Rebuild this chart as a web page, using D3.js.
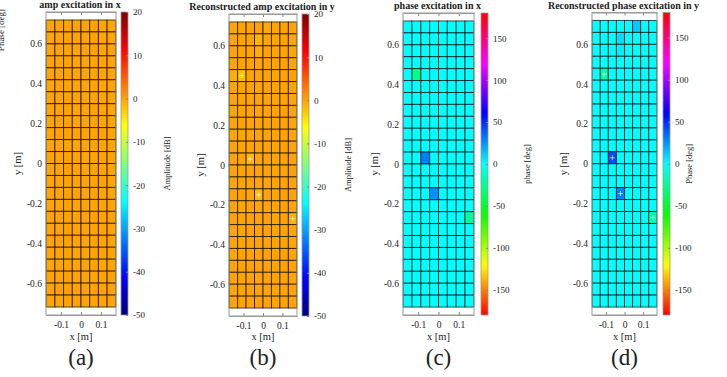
<!DOCTYPE html>
<html>
<head>
<meta charset="utf-8">
<script src="https://cdn.jsdelivr.net/npm/d3@7"></script>
<style>
  body { margin: 0; background: #fff; }
  svg text { font-family: "Liberation Serif", "DejaVu Serif", serif; fill: #222; }
  .axis path { stroke: #999; }
  .axis line { stroke: #888; }
</style>
</head>
<body>
<svg id="chart" width="727" height="377"></svg>
<script>
// element centre positions of the 8 x 24 array [m]
const elemX = [-0.1523, -0.1088, -0.0653, -0.0218, 0.0218, 0.0653, 0.1088, 0.1523];
const elemY = [0.69, 0.63, 0.57, 0.51, 0.45, 0.39, 0.33, 0.27, 0.21, 0.15, 0.09, 0.03,
               -0.03, -0.09, -0.15, -0.21, -0.27, -0.33, -0.39, -0.45, -0.51, -0.57, -0.63, -0.69];

const xTicks = [-0.1, 0, 0.1];
const yTicks = [0.6, 0.4, 0.2, 0, -0.2, -0.4, -0.6];
const ampTicks = [20, 10, 0, -10, -20, -30, -40, -50];
const phaseTicks = [150, 100, 50, 0, -50, -100, -150];

// base level of each map, and the elements that differ from it (col, row, value)
const ampXBase = 0;
const ampXCells = [];
const ampYBase = 0;
const ampYCells = [
  { c: 1, r: 4, v: -1.8, mark: true },
  { c: 2, r: 11, v: -1.3, mark: true },
  { c: 3, r: 14, v: -1.5, mark: true },
  { c: 7, r: 16, v: -0.9, mark: true },
  { c: 3, r: 1, v: -1.0 },
  { c: 3, r: 2, v: -0.6 },
  { c: 0, r: 4, v: -0.7 },
  { c: 4, r: 0, v: -0.4 }
];
const phaseXBase = 0;
const phaseXCells = [
  { c: 1, r: 4, v: -27 },
  { c: 2, r: 11, v: 30 },
  { c: 3, r: 14, v: 26 },
  { c: 7, r: 16, v: -24 }
];
const phaseYBase = 0;
const phaseYCells = [
  { c: 1, r: 4, v: -22, mark: true },
  { c: 2, r: 11, v: 42, mark: true },
  { c: 3, r: 14, v: 30, mark: true },
  { c: 7, r: 16, v: -20, mark: true },
  { c: 5, r: 0, v: 12 },
  { c: 3, r: 1, v: 8 },
  { c: 3, r: 2, v: 4 }
];

function jet(t) {
  const f = v => Math.max(0, Math.min(1, v));
  return d3.rgb(255 * f(1.5 - Math.abs(4 * t - 3)), 255 * f(1.5 - Math.abs(4 * t - 2)), 255 * f(1.5 - Math.abs(4 * t - 1)));
}
function hsv(t) { return d3.hsl(t * 360, 1, 0.5); }

const panels = [
  { title: "amp excitation in x", base: ampXBase, cells: ampXCells, cmap: jet, dom: [-50, 20], cticks: ampTicks,
    clabel: "Amplitude [dB]", tag: "(a)", left: 46, right: 116, top: 12, bottom: 315, cbx: 121, lblx: 170 },
  { title: "Reconstructed amp excitation in y", base: ampYBase, cells: ampYCells, cmap: jet, dom: [-50, 20], cticks: ampTicks,
    clabel: "Amplitude [dB]", tag: "(b)", left: 229, right: 297, top: 14, bottom: 316, cbx: 302, lblx: 351 },
  { title: "phase excitation in x", base: phaseXBase, cells: phaseXCells, cmap: hsv, dom: [-180, 180], cticks: phaseTicks,
    clabel: "phase [deg]", tag: "(c)", left: 403, right: 474, top: 13, bottom: 315, cbx: 481, lblx: 530 },
  { title: "Reconstructed phase excitation in y", base: phaseYBase, cells: phaseYCells, cmap: hsv, dom: [-180, 180], cticks: phaseTicks,
    clabel: "Phase [deg]", tag: "(d)", left: 592, right: 657, top: 12.5, bottom: 315, cbx: 663, lblx: 692 }
];

const svg = d3.select("#chart");
const defs = svg.append("defs");
const dx = elemX[1] - elemX[0];
const dy = elemY[0] - elemY[1];

// cut-off label left over at the very left edge
svg.append("text")
  .attr("transform", "translate(4,30) rotate(-90)")
  .attr("text-anchor", "middle")
  .attr("font-size", 9)
  .attr("fill", "#444")
  .text("Phase [deg]");

panels.forEach((p, i) => {
  const x = d3.scaleLinear().domain([-0.175, 0.175]).range([p.left, p.right]);
  const y = d3.scaleLinear().domain([-0.76, 0.76]).range([p.bottom, p.top]);
  const color = v => p.cmap((v - p.dom[0]) / (p.dom[1] - p.dom[0]));
  const g = svg.append("g");

  g.append("rect")
    .attr("x", p.left).attr("y", p.top)
    .attr("width", p.right - p.left).attr("height", p.bottom - p.top)
    .attr("fill", "#fff");

  // full grid of elements
  const grid = [];
  elemY.forEach((ey, r) => elemX.forEach((ex, c) => {
    const hit = p.cells.find(d => d.c === c && d.r === r);
    grid.push({ ex, ey, v: hit ? hit.v : p.base, mark: hit && hit.mark });
  }));

  g.selectAll("rect.cell")
    .data(grid)
    .enter()
    .append("rect")
    .attr("class", "cell")
    .attr("x", d => x(d.ex - dx / 2))
    .attr("y", d => y(d.ey + dy / 2))
    .attr("width", x(dx) - x(0))
    .attr("height", y(0) - y(dy))
    .attr("fill", d => color(d.v))
    .attr("stroke", "rgba(0,0,0,0.68)")
    .attr("stroke-width", 1);

  g.selectAll("path.mark")
    .data(grid.filter(d => d.mark))
    .enter()
    .append("path")
    .attr("class", "mark")
    .attr("d", d => `M${x(d.ex) - 2.5},${y(d.ey)}h5M${x(d.ex)},${y(d.ey) - 2.5}v5`)
    .attr("stroke", "rgba(255,255,255,0.8)")
    .attr("stroke-width", 0.8);

  // axes
  g.append("g")
    .attr("class", "axis")
    .attr("transform", `translate(0,${p.bottom})`)
    .call(d3.axisBottom(x).tickValues(xTicks).tickSizeInner(-3).tickSizeOuter(0).tickPadding(6).tickFormat(d => String(d)))
    .call(a => a.selectAll("text").attr("font-size", 9.5).attr("font-family", "Liberation Serif"));
  g.append("g")
    .attr("class", "axis")
    .attr("transform", `translate(0,${p.top})`)
    .call(d3.axisTop(x).tickValues(xTicks).tickSizeInner(-3).tickSizeOuter(0).tickFormat(""));
  g.append("g")
    .attr("class", "axis")
    .attr("transform", `translate(${p.left},0)`)
    .call(d3.axisLeft(y).tickValues(yTicks).tickSize(0).tickPadding(4).tickFormat(d => String(d)))
    .call(a => a.select("path").remove())
    .call(a => a.selectAll("text").attr("font-size", 9.5).attr("font-family", "Liberation Serif"));

  g.append("rect")
    .attr("x", p.left).attr("y", p.top)
    .attr("width", p.right - p.left).attr("height", p.bottom - p.top)
    .attr("fill", "none").attr("stroke", "#999").attr("stroke-width", 1);

  const cx = (p.left + p.right) / 2;
  g.append("text")
    .attr("x", cx - 1).attr("y", p.top - 4)
    .attr("text-anchor", "middle")
    .attr("font-size", 10).attr("font-weight", "bold")
    .attr("fill", "#111")
    .text(p.title);
  g.append("text")
    .attr("x", cx).attr("y", 340)
    .attr("text-anchor", "middle")
    .attr("font-size", 10.5)
    .text("x [m]");
  g.append("text")
    .attr("transform", `translate(${p.left - 25},${(p.top + p.bottom) / 2}) rotate(-90)`)
    .attr("text-anchor", "middle")
    .attr("font-size", 10.5)
    .text("y [m]");
  g.append("text")
    .attr("x", cx).attr("y", 365)
    .attr("text-anchor", "middle")
    .attr("font-size", 23)
    .attr("fill", "#000")
    .text(p.tag);

  // colorbar
  const grad = defs.append("linearGradient")
    .attr("id", "cb" + i)
    .attr("x1", 0).attr("y1", 1).attr("x2", 0).attr("y2", 0);
  d3.range(0, 1.0001, 1 / 64).forEach(t => {
    grad.append("stop").attr("offset", t).attr("stop-color", p.cmap(t));
  });
  const cy = d3.scaleLinear().domain(p.dom).range([p.bottom, p.top]);
  g.append("rect")
    .attr("x", p.cbx).attr("y", p.top)
    .attr("width", 7).attr("height", p.bottom - p.top)
    .attr("fill", `url(#cb${i})`)
    .attr("stroke", "#999").attr("stroke-width", 0.8);
  g.append("g")
    .attr("class", "axis")
    .attr("transform", `translate(${p.cbx + 7},0)`)
    .call(d3.axisRight(cy).tickValues(p.cticks).tickSizeInner(-2).tickSizeOuter(0).tickPadding(5).tickFormat(d => String(d)))
    .call(a => a.select("path").remove())
    .call(a => a.selectAll("text").attr("font-size", 9).attr("font-family", "Liberation Serif").attr("fill", "#333"));
  g.append("text")
    .attr("transform", `translate(${p.lblx},${(p.top + p.bottom) / 2}) rotate(-90)`)
    .attr("text-anchor", "middle")
    .attr("font-size", 8.5)
    .attr("fill", "#333")
    .text(p.clabel);
});
</script>
</body>
</html>
